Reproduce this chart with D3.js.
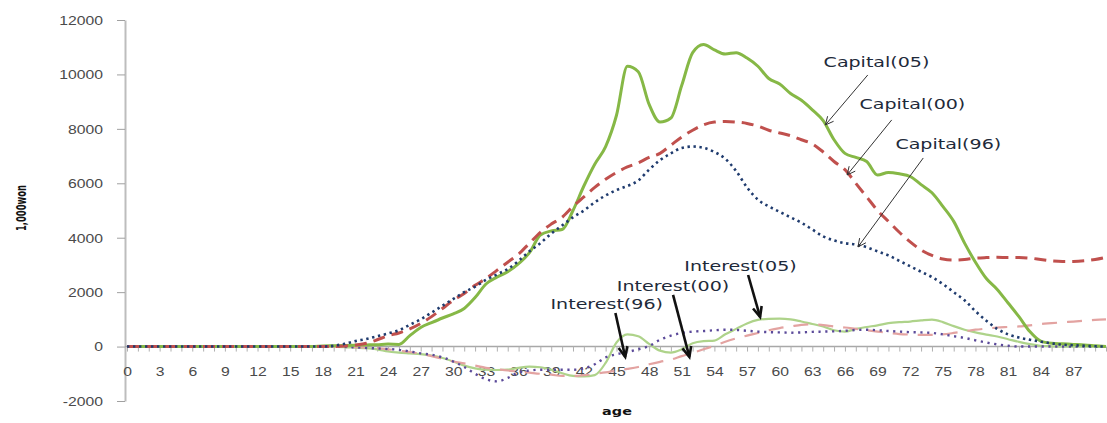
<!DOCTYPE html>
<html><head><meta charset="utf-8">
<script src="https://cdn.jsdelivr.net/npm/d3@7"></script>
<style>body{margin:0;background:#fff}svg{display:block;font-family:"DejaVu Sans",Verdana,sans-serif}</style>
</head><body><svg id="c" width="1107" height="423"></svg>
<script>
// ---- categories ----
const ages = [0,1,2,3,4,5,6,7,8,9,10,11,12,13,14,15,16,17,18,19,20,21,22,23,24,25,26,27,28,29,30,31,32,33,34,35,36,37,38,39,40,41,42,43,44,45,46,47,48,49,50,51,52,53,54,55,56,57,58,59,60,61,62,63,64,65,66,67,68,69,70,71,72,73,74,75,76,77,78,79,80,81,82,83,84,85,86,87,88,89,90];
const xTickLabels = [0,3,6,9,12,15,18,21,24,27,30,33,36,39,42,45,48,51,54,57,60,63,66,69,72,75,78,81,84,87];
const yTicks = [-2000,0,2000,4000,6000,8000,10000,12000];

// ---- series (1,000 won) ----
const capital05 = [0,0,0,0,0,0,0,0,0,0,0,0,0,0,0,0,0,0,20,30,40,50,60,70,90,
  80,400,700,880,1050,1200,1400,1800,2300,2550,2750,3050,3450,4100,4250,4300,5000,5900,6700,7350,8500,10300,10100,8900,8250,8400,9600,10800,11100,10900,10750,10800,10600,10300,9850,9650,9300,9050,8700,8300,7600,7100,6950,6800,6300,6400,6350,6250,5950,5650,5150,4600,3800,3100,2500,2100,1600,1100,550,200,120,100,80,60,30,0];
const capital00 = [0,0,0,0,0,0,0,0,0,0,0,0,0,0,0,0,0,0,0,0,20,60,120,250,400,
  500,650,850,1100,1400,1700,1950,2250,2500,2800,3100,3400,3800,4200,4500,4750,5150,5500,5850,6150,6400,6600,6750,6950,7100,7400,7700,7950,8150,8250,8270,8250,8200,8100,7950,7850,7750,7600,7450,7150,6800,6500,6000,5500,5000,4600,4200,3850,3550,3350,3220,3180,3200,3250,3270,3280,3270,3270,3250,3200,3150,3130,3130,3150,3200,3280];
const capital96 = [0,0,0,0,0,0,0,0,0,0,0,0,0,0,0,0,0,0,0,30,100,200,280,380,480,
  600,800,1000,1250,1500,1750,2000,2200,2450,2650,2850,3150,3500,3800,4150,4450,4750,5000,5300,5550,5750,5900,6100,6500,6850,7100,7300,7350,7300,7150,6900,6450,5850,5400,5150,4950,4750,4550,4300,4050,3900,3800,3750,3650,3500,3350,3150,2950,2750,2550,2300,2000,1700,1300,950,650,450,330,250,180,120,70,50,30,10,0];
const interest05 = [0,0,0,0,0,0,0,0,0,0,0,0,0,0,0,0,0,0,0,-10,-20,-40,-60,-100,-180,
  -220,-250,-280,-330,-420,-550,-700,-800,-850,-860,-850,-780,-740,-760,-850,-980,-1080,-1100,-1050,-600,150,450,380,100,-150,-220,-100,120,200,220,450,650,850,980,1020,1030,1000,920,830,740,600,550,650,720,780,860,900,920,960,990,900,750,620,520,440,370,270,170,90,30,10,0,0,0,0,0];
const interest00 = [0,0,0,0,0,0,0,0,0,0,0,0,0,0,0,0,0,0,0,0,0,-20,-40,-60,-100,
  -150,-200,-260,-350,-450,-550,-620,-700,-780,-830,-880,-920,-960,-1000,-1030,-1080,-1080,-1050,-1000,-950,-880,-820,-750,-650,-560,-480,-350,-230,-100,30,180,300,400,500,600,680,740,800,820,790,740,700,650,600,550,500,460,440,430,430,450,500,560,620,660,700,720,740,780,830,860,890,920,950,980,1000];
const interest96 = [0,0,0,0,0,0,0,0,0,0,0,0,0,0,0,0,0,0,0,0,-10,-30,-50,-70,-90,
  -120,-180,-250,-300,-400,-550,-750,-1000,-1200,-1280,-1150,-950,-880,-850,-850,-850,-850,-800,-650,-400,-280,-200,-100,20,250,400,500,550,570,600,620,610,580,550,530,520,510,520,540,550,560,580,610,620,600,570,550,530,520,500,450,380,320,230,150,80,30,0,0,0,0,0,0,0,0,0];

const seriesNames = ["Capital(05)","Capital(00)","Capital(96)","Interest(05)","Interest(00)","Interest(96)"];
const seriesValues = [capital05, capital00, capital96, interest05, interest00, interest96];
const seriesStyle = [
  {color:"#86B846", width:3,   dash:null},
  {color:"#C0504D", width:3,   dash:"12,7"},
  {color:"#1F3B6E", width:2.6, dash:"2.4,3.6"},
  {color:"#AED38A", width:2.2, dash:null},
  {color:"#E3A3A1", width:2.2, dash:"15,10"},
  {color:"#5B4A9A", width:2.4, dash:"2.2,4.6"}
];

// annotations: label, text centre (age,value), arrow tail (age,value), arrow tip (age,value)
const annotations = [
  {label:"Capital(05)",  tx:68.9, tv:10440, ax:68.1, av:9980, bx:64.2, bv:8144, bold:false},
  {label:"Capital(00)",  tx:72.2, tv:8900,  ax:70.3, av:8328, bx:66.2, bv:6306, bold:false},
  {label:"Capital(96)",  tx:75.5, tv:7460,  ax:73.2, av:6930, bx:67.2, bv:3660, bold:false},
  {label:"Interest(05)", tx:56.4, tv:2960,  ax:57.1, av:2630, bx:58.2, bv:1090, bold:true},
  {label:"Interest(00)", tx:50.2, tv:2220,  ax:50.2, av:1900, bx:51.7, bv:-380, bold:true},
  {label:"Interest(96)", tx:44.1, tv:1560,  ax:44.9, av:1235, bx:45.8, bv:-380, bold:true}
];

const SX = 1.31; // horizontal text stretch of the original
const svg = d3.select("#c");
const x = d3.scaleLinear().domain([0, 90]).range([127, 1106]);
const y = d3.scaleLinear().domain([-2000, 12000]).range([401, 20]);

// y axis
const yAxis = svg.append("g").attr("transform","translate(125,0)")
  .call(d3.axisLeft(y).tickValues(yTicks).tickSize(8).tickSizeOuter(0).tickFormat(d => String(d)));
yAxis.select(".domain").attr("stroke","#BDBDBD").attr("stroke-width",2);
yAxis.selectAll(".tick line").attr("stroke","#A0A0A0");
yAxis.selectAll(".tick text").attr("x",null).attr("dy",null)
  .attr("transform","translate(-22,0) scale("+SX+",1)")
  .attr("dominant-baseline","central")
  .attr("fill","#4A4A4A").style("font-size","12px");

// x axis at value 0
const xAxis = svg.append("g").attr("transform","translate(0,"+y(0)+")")
  .call(d3.axisBottom(x).tickValues(ages).tickSize(5).tickSizeOuter(0)
    .tickFormat(d => xTickLabels.includes(d) ? String(d) : ""));
xAxis.select(".domain").attr("stroke","#A8A8A8").attr("stroke-width",1.6).attr("d","M125,0H1106");
xAxis.selectAll(".tick line").attr("stroke","#B0B0B0");
xAxis.selectAll(".tick text").attr("y",null).attr("dy",null)
  .attr("transform","translate(0,25) scale("+SX+",1)")
  .attr("dominant-baseline","central")
  .attr("fill","#4A4A4A").style("font-size","12px");

// axis titles
svg.append("text").text("age")
  .attr("transform","translate(617,411) scale("+SX+",1)")
  .attr("text-anchor","middle").attr("dominant-baseline","central")
  .style("font-size","11px").style("font-weight","bold").attr("fill","#111");
svg.append("text").text("1,000won")
  .attr("transform","translate(21,208) rotate(-90) scale(0.8,1.3)")
  .attr("text-anchor","middle").attr("dominant-baseline","central")
  .style("font-size","10.5px").style("font-weight","bold").attr("fill","#111");

// lines
const line = d3.line().x((d,i) => x(ages[i])).y(d => y(d)).curve(d3.curveMonotoneX);
const order = [3,4,5,0,1,2];
order.forEach(k => {
  const s = seriesStyle[k];
  svg.append("path").datum(seriesValues[k])
    .attr("d", line).attr("fill","none")
    .attr("stroke", s.color).attr("stroke-width", s.width)
    .attr("stroke-dasharray", s.dash)
    .attr("stroke-linejoin","round")
    .attr("class","series").attr("data-name", seriesNames[k]);
});

// annotations
annotations.forEach(a => {
  const x1 = x(a.ax), y1 = y(a.av), x2 = x(a.bx), y2 = y(a.bv);
  const col = a.bold ? "#111" : "#333";
  const w = a.bold ? 2.6 : 1;
  svg.append("line").attr("x1",x1).attr("y1",y1).attr("x2",x2).attr("y2",y2)
    .attr("stroke",col).attr("stroke-width",w);
  const ang = Math.atan2(y2-y1, x2-x1);
  const L = a.bold ? 11 : 9, spread = a.bold ? 0.42 : 0.45;
  const p1 = [x2 - L*Math.cos(ang - spread), y2 - L*Math.sin(ang - spread)];
  const p2 = [x2 - L*Math.cos(ang + spread), y2 - L*Math.sin(ang + spread)];
  svg.append("path").attr("d","M"+p1+"L"+x2+","+y2+"L"+p2)
    .attr("fill","none").attr("stroke",col).attr("stroke-width",w)
    .attr("stroke-linejoin","miter");
  svg.append("text").text(a.label)
    .attr("transform","translate("+x(a.tx)+","+y(a.tv)+") scale("+(SX+0.05)+",1)")
    .attr("text-anchor","middle").attr("dominant-baseline","central")
    .style("font-size","14px").attr("fill","#1E2A3A");
});
</script></body></html>
